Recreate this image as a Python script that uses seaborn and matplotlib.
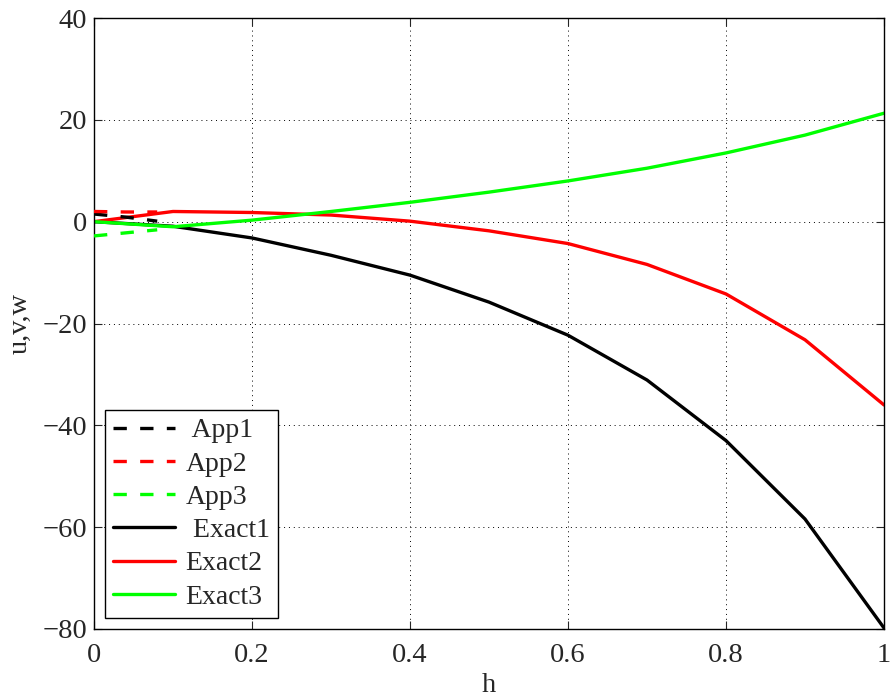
import numpy as np
import pandas as pd
import matplotlib
matplotlib.use('Agg')
import matplotlib.pyplot as plt
import seaborn as sns

# grid of h values
h_exact = [0, 0.1, 0.2, 0.3, 0.4, 0.5, 0.6, 0.7, 0.8, 0.9, 1.0]
h_app = [0, 0.04, 0.08]

# approximate solutions (only near h=0)
app1 = [1.5, 0.9, 0.1]
app2 = [2.0, 1.9, 1.9]
app3 = [-2.8, -2.2, -1.6]

# exact solutions
exact1 = [0, -0.9, -3.2, -6.6, -10.5, -15.8, -22.3, -31.1, -43.0, -58.4, -79.8]
exact2 = [0, 2.0, 1.8, 1.3, 0.1, -1.8, -4.3, -8.4, -14.2, -23.2, -36.0]
exact3 = [0, -1.0, 0.3, 2.0, 3.8, 5.8, 8.0, 10.5, 13.5, 17.0, 21.3]

labels = [' App1', 'App2', 'App3', ' Exact1', 'Exact2', 'Exact3']
warna = ['#000000', '#ff0000', '#00ff00', '#000000', '#ff0000', '#00ff00']

sns.set_style('white')
plt.rcParams['font.family'] = ['Liberation Serif', 'DejaVu Serif']

fig = plt.figure(figsize=(8.93, 7.0), dpi=100)
ax = fig.add_axes([94/893, 1 - 629/700, (884 - 94)/893, (629 - 18)/700])

semua = [(h_app, app1), (h_app, app2), (h_app, app3),
         (h_exact, exact1), (h_exact, exact2), (h_exact, exact3)]
for i, (x, y) in enumerate(semua):
    gaya = (0, (4, 4)) if i < 3 else '-'
    sns.lineplot(x=x, y=y, ax=ax, color=warna[i], linewidth=2.4,
                 linestyle=gaya, label=labels[i], zorder=3 if i < 3 else 2)

ax.set_xlim(0, 1)
ax.set_ylim(-80, 40)
ax.set_xticks([0, 0.2, 0.4, 0.6, 0.8, 1])
ax.set_xticklabels(['0', '0.2', '0.4', '0.6', '0.8', '1'])
ax.set_yticks([-80, -60, -40, -20, 0, 20, 40])
ax.set_yticklabels(['\u221280', '\u221260', '\u221240', '\u221220', '0', '20', '40'])
ax.grid(True, color='black', linestyle=(0, (1, 4)), linewidth=0.7)
ax.tick_params(direction='in', length=6, width=0.8, labelsize=20.5,
               top=True, right=True, bottom=True, left=True)
ax.tick_params(axis='x', pad=10)
ax.tick_params(axis='y', pad=5)
for s in ax.spines.values():
    s.set_color('black')
    s.set_linewidth(1.0)
ax.set_xlabel('h', fontsize=20.5, labelpad=4)
ax.set_ylabel('u,v,w', fontsize=20.5, labelpad=7)

leg = ax.legend(loc='lower left', fontsize=20, frameon=True, fancybox=False,
                edgecolor='black', handlelength=2.2, handletextpad=0.4,
                borderpad=0.3, labelspacing=0.28, borderaxespad=0.4)
leg.get_frame().set_linewidth(1.0)
leg.get_frame().set_alpha(1)

fig.savefig('out.png', dpi=100)
